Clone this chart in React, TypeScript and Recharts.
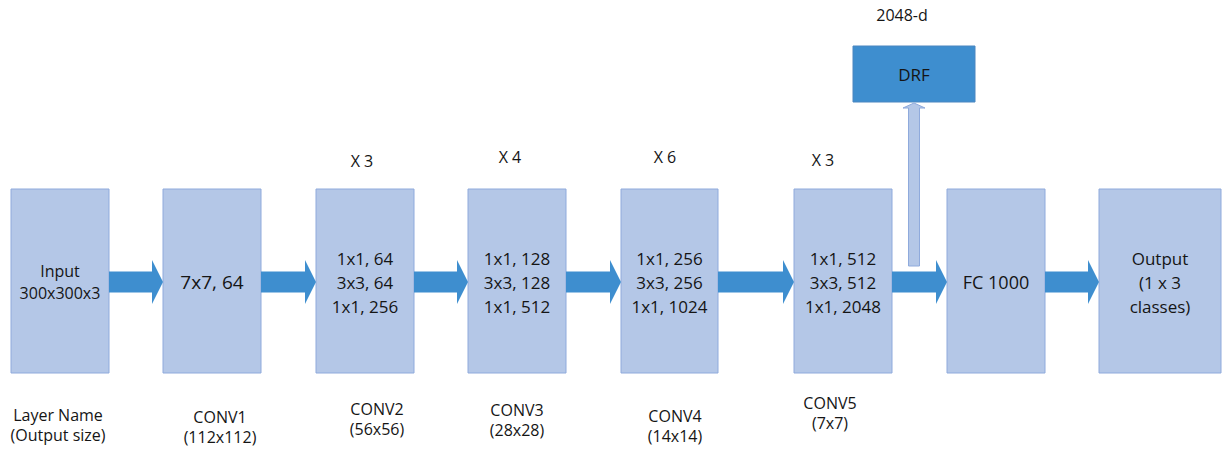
import React from 'react';
import { ComposedChart, XAxis, YAxis, ReferenceArea, Scatter } from 'recharts';

// layer boxes (diagram coordinates, y grows downward)
const boxLeft = [11, 163, 316, 468, 621, 794, 947, 1099];
const boxRight = [109, 261, 414, 566, 718, 892, 1045, 1221];
const boxTop = 189;
const boxBottom = 373;
const flowY = 282;
const boxLines = [
  ['Input', '300x300x3'],
  ['7x7, 64'],
  ['1x1, 64', '3x3, 64', '1x1, 256'],
  ['1x1, 128', '3x3, 128', '1x1, 512'],
  ['1x1, 256', '3x3, 256', '1x1, 1024'],
  ['1x1, 512', '3x3, 512', '1x1, 2048'],
  ['FC 1000'],
  ['Output', '(1 x 3', 'classes)'],
];

// repeat counts above the conv blocks
const repeatText = ['X 3', 'X 4', 'X 6', 'X 3'];
const repeatX = [362, 510, 665, 823];
const repeatY = [161, 157, 157, 160];

// labels under the boxes
const layerNames = ['Layer Name', 'CONV1', 'CONV2', 'CONV3', 'CONV4', 'CONV5'];
const outputSizes = ['(Output size)', '(112x112)', '(56x56)', '(28x28)', '(14x14)', '(7x7)'];
const labelX = [58, 220, 377, 517, 675, 830];
const labelY = [425, 427, 419, 420, 426, 413];

// DRF branch
const drfBox = { x1: 853, x2: 975, y1: 46, y2: 102 };
const drfArrow = { x1: 903, x2: 925, y1: 103, y2: 266 };
const drfDim = { text: '2048-d', x: 902, y: 15 };

const BOX_FILL = '#b4c7e7';
const BOX_STROKE = '#8faadc';
const ARROW = '#3e8ecf';
const FONT = '"Open Sans", sans-serif';

const boxFont = [16, 19, 17, 17, 17, 17, 18, 17];
const boxGap = [22, 24, 24, 24, 24, 24, 24, 24];

const texts = [
  ...boxLines.map((lines, i) => ({
    x: (boxLeft[i] + boxRight[i]) / 2, y: flowY, lines, size: boxFont[i], gap: boxGap[i],
  })),
  ...repeatText.map((t, i) => ({ x: repeatX[i], y: repeatY[i], lines: [t], size: 16, gap: 20 })),
  ...layerNames.map((n, i) => ({ x: labelX[i], y: labelY[i], lines: [n, outputSizes[i]], size: 16, gap: 20 })),
  { x: (drfBox.x1 + drfBox.x2) / 2, y: (drfBox.y1 + drfBox.y2) / 2, lines: ['DRF'], size: 17, gap: 20 },
  { x: drfDim.x, y: drfDim.y, lines: [drfDim.text], size: 16, gap: 20 },
];

const TextMark = (props: any) => {
  const { cx, cy, payload } = props;
  const n = payload.lines.length;
  return (
    <text textAnchor="middle" dominantBaseline="central" fontFamily={FONT}
      fontSize={payload.size} fill="#151515">
      {payload.lines.map((l: string, i: number) => (
        <tspan key={i} x={cx} y={cy + (i - (n - 1) / 2) * payload.gap}>{l}</tspan>
      ))}
    </text>
  );
};

const RightArrow = (props: any) => {
  const { x, y, width, height } = props;
  const cy = y + height / 2;
  const sh = 10.5;
  const tip = x + width;
  const base = tip - 11;
  const pts = [
    [x, cy - sh], [base, cy - sh], [base, y], [tip, cy],
    [base, y + height], [base, cy + sh], [x, cy + sh],
  ].map(p => p.join(',')).join(' ');
  return <polygon points={pts} fill={ARROW} />;
};

const UpArrow = (props: any) => {
  const { x, y, width, height } = props;
  const cx = x + width / 2;
  const sw = 5.5;
  const hl = 5;
  const pts = [
    [cx - sw, y + height], [cx - sw, y + hl], [x, y + hl], [cx, y],
    [x + width, y + hl], [cx + sw, y + hl], [cx + sw, y + height],
  ].map(p => p.join(',')).join(' ');
  return <polygon points={pts} fill={BOX_FILL} stroke={BOX_STROKE} strokeWidth={1} />;
};

export default function App() {
  return (
    <div style={{ position: 'absolute', left: 0, top: 0, width: 1222, height: 451, background: '#fff' }}>
      <ComposedChart width={1222} height={451} margin={{ top: 0, right: 0, bottom: 0, left: 0 }}>
        <XAxis type="number" dataKey="x" domain={[0, 1222]} hide />
        <YAxis type="number" dataKey="y" domain={[0, 451]} reversed hide />

        {boxLeft.map((l, i) => (
          <ReferenceArea key={'b' + i} x1={l} x2={boxRight[i]} y1={boxTop} y2={boxBottom}
            fill={BOX_FILL} fillOpacity={1} stroke={BOX_STROKE} strokeWidth={1} ifOverflow="visible" />
        ))}
        {boxLeft.slice(1).map((l, i) => (
          <ReferenceArea key={'a' + i} x1={boxRight[i]} x2={l} y1={flowY - 22} y2={flowY + 22}
            ifOverflow="visible" shape={RightArrow} />
        ))}

        <ReferenceArea x1={drfBox.x1} x2={drfBox.x2} y1={drfBox.y1} y2={drfBox.y2}
          fill={ARROW} fillOpacity={1} stroke="#4a86c0" strokeWidth={1} ifOverflow="visible" />
        <ReferenceArea x1={drfArrow.x1} x2={drfArrow.x2} y1={drfArrow.y1} y2={drfArrow.y2}
          ifOverflow="visible" shape={UpArrow} />

        <Scatter data={texts} dataKey="y" shape={TextMark} isAnimationActive={false} legendType="none" />
      </ComposedChart>
    </div>
  );
}
